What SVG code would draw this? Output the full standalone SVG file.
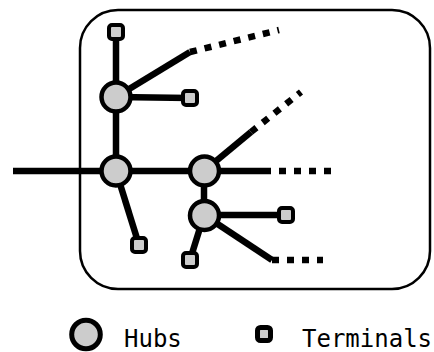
<svg xmlns="http://www.w3.org/2000/svg" width="434" height="352" viewBox="0 0 434 352">
<style>
.frame{fill:none;stroke:#000;stroke-width:2.5}
.ln{stroke:#000;stroke-width:6.5;fill:none}
.dash{stroke:#000;stroke-width:6.5;fill:none;stroke-dasharray:7 8}
.hub{fill:#cccccc;stroke:#000;stroke-width:4.5}
.term{fill:#cccccc;stroke:#000;stroke-width:4}
.lbl{font-family:"DejaVu Sans Mono","Liberation Mono",monospace;font-size:24px;fill:#000}
</style>
<rect class="frame" x="80" y="10" width="350" height="279" rx="38" ry="38"/>
<g id="connectors">
<line class="ln" x1="13" y1="171" x2="116" y2="171"/>
<line class="ln" x1="116" y1="32" x2="116" y2="171"/>
<line class="ln" x1="116" y1="97" x2="190" y2="52"/>
<line class="dash" x1="190" y1="52" x2="279" y2="30"/>
<line class="ln" x1="116" y1="97" x2="190" y2="98"/>
<line class="ln" x1="116" y1="171" x2="204" y2="171"/>
<line class="ln" x1="116" y1="171" x2="139" y2="245"/>
<line class="ln" x1="204" y1="171" x2="264" y2="171"/>
<line class="dash" x1="264" y1="171" x2="331" y2="171"/>
<line class="ln" x1="204" y1="171" x2="251" y2="132"/>
<line class="dash" x1="251" y1="132" x2="301" y2="92"/>
<line class="ln" x1="204" y1="171" x2="204" y2="215"/>
<line class="ln" x1="204" y1="215" x2="286" y2="215"/>
<line class="ln" x1="204" y1="215" x2="272" y2="260"/>
<line class="dash" x1="272" y1="260" x2="323" y2="260"/>
<line class="ln" x1="204" y1="215" x2="190" y2="260"/>
</g>
<g id="hub-a"><circle class="hub" cx="116" cy="97" r="14.5"/></g>
<g id="hub-b"><circle class="hub" cx="116" cy="171" r="14.5"/></g>
<g id="hub-c"><circle class="hub" cx="204.5" cy="171" r="14.5"/></g>
<g id="hub-d"><circle class="hub" cx="204.5" cy="215.5" r="14.5"/></g>
<g id="term-1"><rect class="term" x="109" y="25" width="14" height="14" rx="3"/></g>
<g id="term-2"><rect class="term" x="183" y="91" width="14" height="14" rx="3"/></g>
<g id="term-3"><rect class="term" x="132" y="238" width="14" height="14" rx="3"/></g>
<g id="term-4"><rect class="term" x="279" y="208" width="14" height="14" rx="3"/></g>
<g id="term-5"><rect class="term" x="183" y="253" width="14" height="14" rx="3"/></g>
<g id="legend">
<circle class="hub" cx="86" cy="334.5" r="14.3" style="stroke-width:5"/>
<text class="lbl" x="124" y="347">Hubs</text>
<rect class="term" x="257.5" y="327.5" width="13" height="13" rx="3" style="stroke-width:5"/>
<text class="lbl" x="302" y="347">Terminals</text>
</g>
</svg>
